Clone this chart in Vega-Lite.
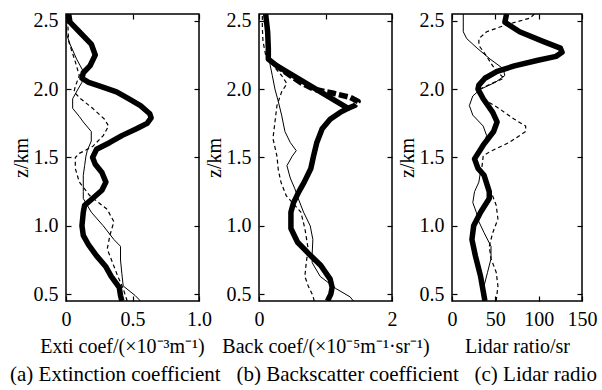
{
  "$schema": "https://vega.github.io/schema/vega-lite/v6.json",
  "padding": {"left": 10, "top": 10, "right": 0, "bottom": 0},
  "autosize": {"type": "pad"},
  "config": {
    "font": "Liberation Serif, Times New Roman, serif",
    "view": {"stroke": "black", "strokeWidth": 1.5},
    "axis": {
      "grid": false, "domain": false, "ticks": true, "tickSize": -5, "tickColor": "black", "tickWidth": 1.2,
      "labelFont": "Liberation Serif, Times New Roman, serif", "labelFontSize": 20, "labelColor": "black", "labelPadding": 13, "labelOverlap": false, "labelFlush": false,
      "titleFont": "Liberation Serif, Times New Roman, serif", "titleFontSize": 20, "titleFontWeight": "normal", "titleColor": "black"
    },
    "line": {"color": "black", "strokeCap": "butt", "strokeJoin": "round"}
  },
  "title": {"text": "(a) Extinction coefficient\u00a0\u00a0 (b) Backscatter coefficient\u00a0\u00a0 (c) Lidar radio", "orient": "bottom", "anchor": "start", "frame": "group", "dx": -56, "fontSize": 21, "fontWeight": "normal", "font": "Liberation Serif, Times New Roman, serif", "color": "black", "offset": 7},
  "bounds": "flush",
  "spacing": 60,
  "datasets": {
    "d": [
      {"p":"a","s":"thick","z":2.55,"v":0.02},{"p":"a","s":"thick","z":2.49,"v":0.03},{"p":"a","s":"thick","z":2.42,"v":0.10},{"p":"a","s":"thick","z":2.33,"v":0.19},{"p":"a","s":"thick","z":2.25,"v":0.22},{"p":"a","s":"thick","z":2.17,"v":0.18},{"p":"a","s":"thick","z":2.12,"v":0.13},{"p":"a","s":"thick","z":2.08,"v":0.12},{"p":"a","s":"thick","z":2.05,"v":0.17},{"p":"a","s":"thick","z":2.02,"v":0.26},{"p":"a","s":"thick","z":1.98,"v":0.38},{"p":"a","s":"thick","z":1.93,"v":0.47},{"p":"a","s":"thick","z":1.88,"v":0.56},{"p":"a","s":"thick","z":1.82,"v":0.63},{"p":"a","s":"thick","z":1.79,"v":0.64},{"p":"a","s":"thick","z":1.75,"v":0.61},{"p":"a","s":"thick","z":1.71,"v":0.53},{"p":"a","s":"thick","z":1.66,"v":0.42},{"p":"a","s":"thick","z":1.61,"v":0.33},{"p":"a","s":"thick","z":1.56,"v":0.23},{"p":"a","s":"thick","z":1.50,"v":0.20},{"p":"a","s":"thick","z":1.45,"v":0.22},{"p":"a","s":"thick","z":1.39,"v":0.27},{"p":"a","s":"thick","z":1.32,"v":0.30},{"p":"a","s":"thick","z":1.26,"v":0.27},{"p":"a","s":"thick","z":1.20,"v":0.20},{"p":"a","s":"thick","z":1.15,"v":0.14},{"p":"a","s":"thick","z":1.10,"v":0.13},{"p":"a","s":"thick","z":1.00,"v":0.12},{"p":"a","s":"thick","z":0.93,"v":0.13},{"p":"a","s":"thick","z":0.86,"v":0.17},{"p":"a","s":"thick","z":0.78,"v":0.23},{"p":"a","s":"thick","z":0.70,"v":0.30},{"p":"a","s":"thick","z":0.63,"v":0.34},{"p":"a","s":"thick","z":0.55,"v":0.40},{"p":"a","s":"thick","z":0.49,"v":0.41},{"p":"a","s":"thick","z":0.45,"v":0.42},
      {"p":"a","s":"thin","z":2.55,"v":0.005},{"p":"a","s":"thin","z":2.40,"v":0.005},{"p":"a","s":"thin","z":2.33,"v":0.03},{"p":"a","s":"thin","z":2.22,"v":0.08},{"p":"a","s":"thin","z":2.13,"v":0.13},{"p":"a","s":"thin","z":2.05,"v":0.12},{"p":"a","s":"thin","z":2.00,"v":0.09},{"p":"a","s":"thin","z":1.93,"v":0.05},{"p":"a","s":"thin","z":1.86,"v":0.05},{"p":"a","s":"thin","z":1.80,"v":0.10},{"p":"a","s":"thin","z":1.76,"v":0.13},{"p":"a","s":"thin","z":1.69,"v":0.19},{"p":"a","s":"thin","z":1.62,"v":0.19},{"p":"a","s":"thin","z":1.55,"v":0.16},{"p":"a","s":"thin","z":1.51,"v":0.15},{"p":"a","s":"thin","z":1.44,"v":0.14},{"p":"a","s":"thin","z":1.37,"v":0.13},{"p":"a","s":"thin","z":1.25,"v":0.13},{"p":"a","s":"thin","z":1.20,"v":0.13},{"p":"a","s":"thin","z":1.10,"v":0.19},{"p":"a","s":"thin","z":1.00,"v":0.28},{"p":"a","s":"thin","z":0.90,"v":0.36},{"p":"a","s":"thin","z":0.85,"v":0.41},{"p":"a","s":"thin","z":0.75,"v":0.41},{"p":"a","s":"thin","z":0.65,"v":0.42},{"p":"a","s":"thin","z":0.56,"v":0.43},{"p":"a","s":"thin","z":0.49,"v":0.52},{"p":"a","s":"thin","z":0.45,"v":0.56},
      {"p":"a","s":"dash","z":2.55,"v":0.01},{"p":"a","s":"dash","z":2.35,"v":0.02},{"p":"a","s":"dash","z":2.20,"v":0.07},{"p":"a","s":"dash","z":2.10,"v":0.10},{"p":"a","s":"dash","z":2.02,"v":0.07},{"p":"a","s":"dash","z":1.98,"v":0.06},{"p":"a","s":"dash","z":1.93,"v":0.11},{"p":"a","s":"dash","z":1.86,"v":0.20},{"p":"a","s":"dash","z":1.78,"v":0.29},{"p":"a","s":"dash","z":1.73,"v":0.32},{"p":"a","s":"dash","z":1.66,"v":0.28},{"p":"a","s":"dash","z":1.58,"v":0.20},{"p":"a","s":"dash","z":1.53,"v":0.10},{"p":"a","s":"dash","z":1.50,"v":0.07},{"p":"a","s":"dash","z":1.42,"v":0.07},{"p":"a","s":"dash","z":1.32,"v":0.10},{"p":"a","s":"dash","z":1.22,"v":0.18},{"p":"a","s":"dash","z":1.12,"v":0.31},{"p":"a","s":"dash","z":1.03,"v":0.36},{"p":"a","s":"dash","z":0.93,"v":0.33},{"p":"a","s":"dash","z":0.83,"v":0.31},{"p":"a","s":"dash","z":0.73,"v":0.35},{"p":"a","s":"dash","z":0.63,"v":0.39},{"p":"a","s":"dash","z":0.54,"v":0.43},{"p":"a","s":"dash","z":0.45,"v":0.46},

      {"p":"b","s":"thick","z":2.55,"v":0.10},{"p":"b","s":"thick","z":2.42,"v":0.13},{"p":"b","s":"thick","z":2.30,"v":0.14},{"p":"b","s":"thick","z":2.22,"v":0.14},{"p":"b","s":"thick","z":2.17,"v":0.27},{"p":"b","s":"thick","z":1.86,"v":1.34},{"p":"b","s":"thick","z":1.83,"v":1.22},{"p":"b","s":"thick","z":1.78,"v":1.07},{"p":"b","s":"thick","z":1.71,"v":0.95},{"p":"b","s":"thick","z":1.61,"v":0.87},{"p":"b","s":"thick","z":1.51,"v":0.82},{"p":"b","s":"thick","z":1.42,"v":0.78},{"p":"b","s":"thick","z":1.32,"v":0.68},{"p":"b","s":"thick","z":1.25,"v":0.60},{"p":"b","s":"thick","z":1.17,"v":0.52},{"p":"b","s":"thick","z":1.10,"v":0.48},{"p":"b","s":"thick","z":0.98,"v":0.48},{"p":"b","s":"thick","z":0.88,"v":0.58},{"p":"b","s":"thick","z":0.80,"v":0.74},{"p":"b","s":"thick","z":0.71,"v":0.93},{"p":"b","s":"thick","z":0.61,"v":1.07},{"p":"b","s":"thick","z":0.55,"v":1.10},{"p":"b","s":"thick","z":0.50,"v":1.08},{"p":"b","s":"thick","z":0.45,"v":1.03},
      {"p":"b","s":"thickdash","z":2.17,"v":0.27},{"p":"b","s":"thickdash","z":2.10,"v":0.47},{"p":"b","s":"thickdash","z":2.05,"v":0.62},{"p":"b","s":"thickdash","z":2.00,"v":0.82},{"p":"b","s":"thickdash","z":1.97,"v":1.12},{"p":"b","s":"thickdash","z":1.94,"v":1.37},{"p":"b","s":"thickdash","z":1.91,"v":1.49},{"p":"b","s":"thickdash","z":1.88,"v":1.44},{"p":"b","s":"thickdash","z":1.86,"v":1.34},
      {"p":"b","s":"thin","z":2.55,"v":0.10},{"p":"b","s":"thin","z":2.30,"v":0.13},{"p":"b","s":"thin","z":2.17,"v":0.17},{"p":"b","s":"thin","z":2.10,"v":0.20},{"p":"b","s":"thin","z":2.00,"v":0.24},{"p":"b","s":"thin","z":1.91,"v":0.29},{"p":"b","s":"thin","z":1.81,"v":0.34},{"p":"b","s":"thin","z":1.69,"v":0.39},{"p":"b","s":"thin","z":1.61,"v":0.47},{"p":"b","s":"thin","z":1.55,"v":0.56},{"p":"b","s":"thin","z":1.51,"v":0.50},{"p":"b","s":"thin","z":1.44,"v":0.42},{"p":"b","s":"thin","z":1.35,"v":0.47},{"p":"b","s":"thin","z":1.27,"v":0.54},{"p":"b","s":"thin","z":1.20,"v":0.59},{"p":"b","s":"thin","z":1.10,"v":0.67},{"p":"b","s":"thin","z":1.00,"v":0.77},{"p":"b","s":"thin","z":0.90,"v":0.81},{"p":"b","s":"thin","z":0.80,"v":0.80},{"p":"b","s":"thin","z":0.73,"v":0.80},{"p":"b","s":"thin","z":0.63,"v":0.92},{"p":"b","s":"thin","z":0.54,"v":1.16},{"p":"b","s":"thin","z":0.48,"v":1.37},{"p":"b","s":"thin","z":0.45,"v":1.42},
      {"p":"b","s":"dash","z":2.55,"v":0.05},{"p":"b","s":"dash","z":2.45,"v":0.05},{"p":"b","s":"dash","z":2.35,"v":0.06},{"p":"b","s":"dash","z":2.25,"v":0.10},{"p":"b","s":"dash","z":2.15,"v":0.25},{"p":"b","s":"dash","z":2.10,"v":0.34},{"p":"b","s":"dash","z":2.04,"v":0.42},{"p":"b","s":"dash","z":1.98,"v":0.34},{"p":"b","s":"dash","z":1.88,"v":0.27},{"p":"b","s":"dash","z":1.76,"v":0.24},{"p":"b","s":"dash","z":1.64,"v":0.21},{"p":"b","s":"dash","z":1.51,"v":0.27},{"p":"b","s":"dash","z":1.41,"v":0.29},{"p":"b","s":"dash","z":1.32,"v":0.33},{"p":"b","s":"dash","z":1.22,"v":0.41},{"p":"b","s":"dash","z":1.10,"v":0.63},{"p":"b","s":"dash","z":0.98,"v":0.69},{"p":"b","s":"dash","z":0.83,"v":0.74},{"p":"b","s":"dash","z":0.73,"v":0.71},{"p":"b","s":"dash","z":0.63,"v":0.69},{"p":"b","s":"dash","z":0.56,"v":0.74},{"p":"b","s":"dash","z":0.49,"v":0.81},{"p":"b","s":"dash","z":0.45,"v":0.83},

      {"p":"c","s":"thick","z":2.55,"v":63},{"p":"c","s":"thick","z":2.49,"v":61},{"p":"c","s":"thick","z":2.42,"v":78},{"p":"c","s":"thick","z":2.35,"v":105},{"p":"c","s":"thick","z":2.30,"v":125},{"p":"c","s":"thick","z":2.27,"v":127},{"p":"c","s":"thick","z":2.24,"v":120},{"p":"c","s":"thick","z":2.21,"v":98},{"p":"c","s":"thick","z":2.17,"v":72},{"p":"c","s":"thick","z":2.13,"v":52},{"p":"c","s":"thick","z":2.08,"v":38},{"p":"c","s":"thick","z":2.03,"v":31},{"p":"c","s":"thick","z":2.00,"v":30},{"p":"c","s":"thick","z":1.93,"v":36},{"p":"c","s":"thick","z":1.83,"v":47},{"p":"c","s":"thick","z":1.76,"v":52},{"p":"c","s":"thick","z":1.69,"v":48},{"p":"c","s":"thick","z":1.59,"v":36},{"p":"c","s":"thick","z":1.49,"v":26},{"p":"c","s":"thick","z":1.42,"v":30},{"p":"c","s":"thick","z":1.37,"v":37},{"p":"c","s":"thick","z":1.25,"v":43},{"p":"c","s":"thick","z":1.20,"v":43},{"p":"c","s":"thick","z":1.10,"v":33},{"p":"c","s":"thick","z":1.00,"v":25},{"p":"c","s":"thick","z":0.90,"v":23},{"p":"c","s":"thick","z":0.78,"v":27},{"p":"c","s":"thick","z":0.63,"v":33},{"p":"c","s":"thick","z":0.45,"v":38},
      {"p":"c","s":"thin","z":2.55,"v":13},{"p":"c","s":"thin","z":2.42,"v":13},{"p":"c","s":"thin","z":2.37,"v":17},{"p":"c","s":"thin","z":2.30,"v":29},{"p":"c","s":"thin","z":2.22,"v":44},{"p":"c","s":"thin","z":2.15,"v":59},{"p":"c","s":"thin","z":2.10,"v":61},{"p":"c","s":"thin","z":2.05,"v":50},{"p":"c","s":"thin","z":2.00,"v":33},{"p":"c","s":"thin","z":1.95,"v":24},{"p":"c","s":"thin","z":1.88,"v":20},{"p":"c","s":"thin","z":1.81,"v":24},{"p":"c","s":"thin","z":1.73,"v":36},{"p":"c","s":"thin","z":1.66,"v":40},{"p":"c","s":"thin","z":1.59,"v":36},{"p":"c","s":"thin","z":1.49,"v":27},{"p":"c","s":"thin","z":1.40,"v":33},{"p":"c","s":"thin","z":1.32,"v":31},{"p":"c","s":"thin","z":1.25,"v":26},{"p":"c","s":"thin","z":1.17,"v":24},{"p":"c","s":"thin","z":1.10,"v":28},{"p":"c","s":"thin","z":1.03,"v":31},{"p":"c","s":"thin","z":0.95,"v":37},{"p":"c","s":"thin","z":0.85,"v":45},{"p":"c","s":"thin","z":0.76,"v":45},{"p":"c","s":"thin","z":0.66,"v":41},{"p":"c","s":"thin","z":0.56,"v":37},{"p":"c","s":"thin","z":0.45,"v":37},
      {"p":"c","s":"dash","z":2.55,"v":95},{"p":"c","s":"dash","z":2.52,"v":90},{"p":"c","s":"dash","z":2.47,"v":62},{"p":"c","s":"dash","z":2.42,"v":40},{"p":"c","s":"dash","z":2.37,"v":31},{"p":"c","s":"dash","z":2.32,"v":31},{"p":"c","s":"dash","z":2.25,"v":39},{"p":"c","s":"dash","z":2.17,"v":47},{"p":"c","s":"dash","z":2.13,"v":52},{"p":"c","s":"dash","z":2.08,"v":60},{"p":"c","s":"dash","z":2.04,"v":45},{"p":"c","s":"dash","z":2.00,"v":32},{"p":"c","s":"dash","z":1.93,"v":36},{"p":"c","s":"dash","z":1.86,"v":54},{"p":"c","s":"dash","z":1.78,"v":72},{"p":"c","s":"dash","z":1.73,"v":85},{"p":"c","s":"dash","z":1.69,"v":85},{"p":"c","s":"dash","z":1.61,"v":66},{"p":"c","s":"dash","z":1.54,"v":43},{"p":"c","s":"dash","z":1.51,"v":36},{"p":"c","s":"dash","z":1.40,"v":34},{"p":"c","s":"dash","z":1.30,"v":42},{"p":"c","s":"dash","z":1.25,"v":45},{"p":"c","s":"dash","z":1.15,"v":51},{"p":"c","s":"dash","z":1.05,"v":53},{"p":"c","s":"dash","z":0.95,"v":47},{"p":"c","s":"dash","z":0.85,"v":43},{"p":"c","s":"dash","z":0.76,"v":45},{"p":"c","s":"dash","z":0.66,"v":51},{"p":"c","s":"dash","z":0.56,"v":53},{"p":"c","s":"dash","z":0.45,"v":51}
    ]
  },
  "hconcat": [
    {
      "width": 133, "height": 287,
      "data": {"name": "d"},
      "transform": [{"filter": "datum.p == 'a'"}],
      "layer": [
        {
          "transform": [{"filter": "datum.s == 'thin'"}],
          "mark": {"type": "line", "clip": true, "strokeWidth": 1},
          "encoding": {
            "x": {"field": "v", "type": "quantitative", "scale": {"domain": [0, 1]}, "axis": {"orient": "bottom", "values": [0, 0.5, 1], "labelExpr": "datum.value == 0 ? '0' : format(datum.value, '.1f')", "title": "Exti coef/(×10⁻³m⁻¹)", "titleX": 56, "titlePadding": 7}},
            "y": {"field": "z", "type": "quantitative", "scale": {"domain": [0.45, 2.55]}, "axis": {"orient": "left", "values": [0.5, 1, 1.5, 2, 2.5], "format": ".1f", "title": "z/km", "titlePadding": 2}},
            "order": {"field": "z"}
          }
        },
        {
          "transform": [{"filter": "datum.s == 'dash'"}],
          "mark": {"type": "line", "clip": true, "strokeWidth": 1.2, "strokeDash": [4, 3]},
          "encoding": {
            "x": {"field": "v", "type": "quantitative", "scale": {"domain": [0, 1]}, "axis": null},
            "y": {"field": "z", "type": "quantitative", "scale": {"domain": [0.45, 2.55]}, "axis": null},
            "order": {"field": "z"}
          }
        },
        {
          "transform": [{"filter": "datum.s == 'thick'"}],
          "mark": {"type": "line", "clip": true, "strokeWidth": 5.5},
          "encoding": {
            "x": {"field": "v", "type": "quantitative", "scale": {"domain": [0, 1]}, "axis": null},
            "y": {"field": "z", "type": "quantitative", "scale": {"domain": [0.45, 2.55]}, "axis": null},
            "order": {"field": "z"}
          }
        },
        {
          "mark": {"type": "point", "opacity": 0},
          "encoding": {
            "x": {"field": "v", "type": "quantitative", "scale": {"domain": [0, 1]}, "axis": {"orient": "top", "values": [0, 0.5, 1], "labels": false, "title": null}},
            "y": {"field": "z", "type": "quantitative", "scale": {"domain": [0.45, 2.55]}, "axis": {"orient": "right", "values": [0.5, 1, 1.5, 2, 2.5], "labels": false, "title": null}}
          }
        }
      ],
      "resolve": {"axis": {"x": "independent", "y": "independent"}}
    },
    {
      "width": 133, "height": 287,
      "data": {"name": "d"},
      "transform": [{"filter": "datum.p == 'b'"}],
      "layer": [
        {
          "transform": [{"filter": "datum.s == 'thin'"}],
          "mark": {"type": "line", "clip": true, "strokeWidth": 1},
          "encoding": {
            "x": {"field": "v", "type": "quantitative", "scale": {"domain": [0, 2]}, "axis": {"orient": "bottom", "values": [0, 1, 2], "format": "d", "title": "Back coef/(×10⁻⁵m⁻¹·sr⁻¹)", "titlePadding": 7}},
            "y": {"field": "z", "type": "quantitative", "scale": {"domain": [0.45, 2.55]}, "axis": {"orient": "left", "values": [0.5, 1, 1.5, 2, 2.5], "format": ".1f", "title": "z/km", "titlePadding": 2}},
            "order": {"field": "z"}
          }
        },
        {
          "transform": [{"filter": "datum.s == 'dash'"}],
          "mark": {"type": "line", "clip": true, "strokeWidth": 1.2, "strokeDash": [4, 3]},
          "encoding": {
            "x": {"field": "v", "type": "quantitative", "scale": {"domain": [0, 2]}, "axis": null},
            "y": {"field": "z", "type": "quantitative", "scale": {"domain": [0.45, 2.55]}, "axis": null},
            "order": {"field": "z"}
          }
        },
        {
          "transform": [{"filter": "datum.s == 'thick'"}],
          "mark": {"type": "line", "clip": true, "strokeWidth": 5.5},
          "encoding": {
            "x": {"field": "v", "type": "quantitative", "scale": {"domain": [0, 2]}, "axis": null},
            "y": {"field": "z", "type": "quantitative", "scale": {"domain": [0.45, 2.55]}, "axis": null},
            "order": {"field": "z"}
          }
        },
        {
          "transform": [{"filter": "datum.s == 'thickdash'"}],
          "mark": {"type": "line", "clip": true, "strokeWidth": 5.5, "strokeDash": [9, 3]},
          "encoding": {
            "x": {"field": "v", "type": "quantitative", "scale": {"domain": [0, 2]}, "axis": null},
            "y": {"field": "z", "type": "quantitative", "scale": {"domain": [0.45, 2.55]}, "axis": null},
            "order": {"field": "z"}
          }
        },
        {
          "mark": {"type": "point", "opacity": 0},
          "encoding": {
            "x": {"field": "v", "type": "quantitative", "scale": {"domain": [0, 2]}, "axis": {"orient": "top", "values": [0, 1, 2], "labels": false, "title": null}},
            "y": {"field": "z", "type": "quantitative", "scale": {"domain": [0.45, 2.55]}, "axis": {"orient": "right", "values": [0.5, 1, 1.5, 2, 2.5], "labels": false, "title": null}}
          }
        }
      ],
      "resolve": {"axis": {"x": "independent", "y": "independent"}}
    },
    {
      "width": 130, "height": 287,
      "data": {"name": "d"},
      "transform": [{"filter": "datum.p == 'c'"}],
      "layer": [
        {
          "transform": [{"filter": "datum.s == 'thin'"}],
          "mark": {"type": "line", "clip": true, "strokeWidth": 1},
          "encoding": {
            "x": {"field": "v", "type": "quantitative", "scale": {"domain": [0, 150]}, "axis": {"orient": "bottom", "values": [0, 50, 100, 150], "format": "d", "title": "Lidar ratio/sr", "titlePadding": 7}},
            "y": {"field": "z", "type": "quantitative", "scale": {"domain": [0.45, 2.55]}, "axis": {"orient": "left", "values": [0.5, 1, 1.5, 2, 2.5], "format": ".1f", "title": "z/km", "titlePadding": 2}},
            "order": {"field": "z"}
          }
        },
        {
          "transform": [{"filter": "datum.s == 'dash'"}],
          "mark": {"type": "line", "clip": true, "strokeWidth": 1.2, "strokeDash": [4, 3]},
          "encoding": {
            "x": {"field": "v", "type": "quantitative", "scale": {"domain": [0, 150]}, "axis": null},
            "y": {"field": "z", "type": "quantitative", "scale": {"domain": [0.45, 2.55]}, "axis": null},
            "order": {"field": "z"}
          }
        },
        {
          "transform": [{"filter": "datum.s == 'thick'"}],
          "mark": {"type": "line", "clip": true, "strokeWidth": 5.5},
          "encoding": {
            "x": {"field": "v", "type": "quantitative", "scale": {"domain": [0, 150]}, "axis": null},
            "y": {"field": "z", "type": "quantitative", "scale": {"domain": [0.45, 2.55]}, "axis": null},
            "order": {"field": "z"}
          }
        },
        {
          "mark": {"type": "point", "opacity": 0},
          "encoding": {
            "x": {"field": "v", "type": "quantitative", "scale": {"domain": [0, 150]}, "axis": {"orient": "top", "values": [0, 50, 100, 150], "labels": false, "title": null}},
            "y": {"field": "z", "type": "quantitative", "scale": {"domain": [0.45, 2.55]}, "axis": {"orient": "right", "values": [0.5, 1, 1.5, 2, 2.5], "labels": false, "title": null}}
          }
        }
      ],
      "resolve": {"axis": {"x": "independent", "y": "independent"}}
    }
  ]
}
